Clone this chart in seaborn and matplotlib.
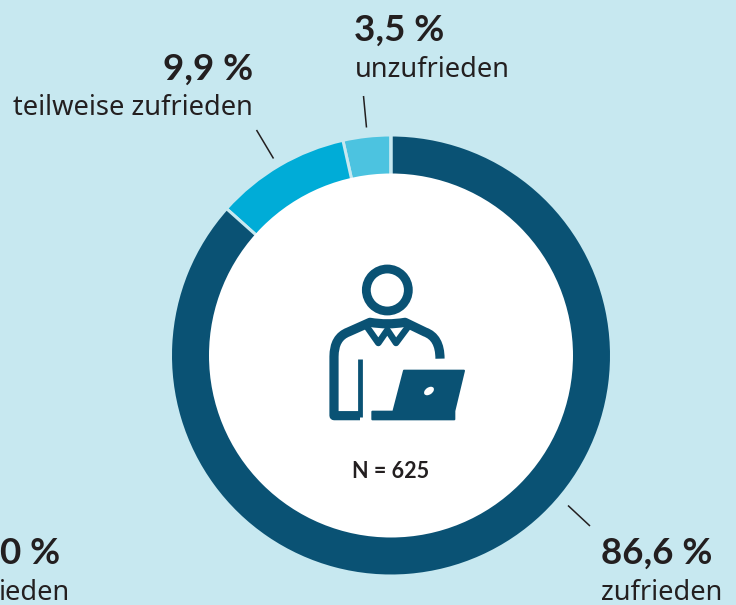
import matplotlib
matplotlib.use('Agg')
import matplotlib.pyplot as plt
import seaborn as sns
from matplotlib.patches import Circle, Ellipse, Polygon
from matplotlib.path import Path
from matplotlib.patches import PathPatch

# chart values, the 0,0 % slice has no visible wedge
kategorien = ['unzufrieden', 'teilweise zufrieden', 'zufrieden', 'ieden']
werte = [3.5, 9.9, 86.6, 0.0]
wert_texte = ['3,5 %', '9,9 %', '86,6 %', '0,0 %']
farben = ['#4cc3e0', '#00acd7', '#0a5274', '#0a5274']

BG = '#c7e8f0'
DUNKEL = '#0a5274'
TEXT = '#231f20'
W, H = 736, 605

sns.set_theme(style='white')
plt.rcParams['font.family'] = ['Noto Sans', 'DejaVu Sans']

fig = plt.figure(figsize=(W / 100, H / 100), dpi=100, facecolor=BG)
ax = fig.add_axes([0, 0, 1, 1])

def Y(y):
    return H - y

def px(n):
    return n * 0.72

# ring
ax.pie(werte, colors=sns.color_palette(farben), startangle=90, counterclock=True,
       center=(391, Y(355.5)), radius=220.5, frame=False,
       wedgeprops=dict(width=60, edgecolor=BG, linewidth=px(3)))
ax.add_patch(Circle((391, Y(355.5)), 182, fc='white', ec='none', zorder=3))

# leader lines
for (x0, y0), (x1, y1) in [((363.5, 96), (366.5, 127.5)), ((256.5, 130), (273.5, 158.5)), ((568, 505.5), (590, 526))]:
    ax.plot([x0, x1], [Y(y0), Y(y1)], color=TEXT, lw=1.1, solid_capstyle='butt', zorder=4)

# labels
anker = [(354, 41, 355, 77, 'left'), (253, 80, 253, 115, 'right'), (601, 564, 601, 600, 'left'), (60, 564, 70, 600, 'right')]
for kat, wt, (x0, y0, x1, y1, ha) in zip(kategorien, wert_texte, anker):
    ax.text(x0, Y(y0), wt, fontsize=26.5, family='Lato', fontweight='bold', color=TEXT, ha=ha, va='baseline', zorder=5)
    ax.text(x1, Y(y1), kat, fontsize=19.6, color=TEXT, ha=ha, va='baseline', zorder=5)
ax.text(391, Y(478), 'N = 625', fontsize=15.5, family='Lato', fontweight='bold', color=TEXT, ha='center', va='baseline', zorder=5)

# icon, points taken from the zoomed crop
def ic(x, y):
    return 310 + x / 3, Y(250 + y / 3)

ax.add_patch(Circle(ic(232, 120), 21, fc='none', ec=DUNKEL, lw=px(8.8), zorder=5))

M, L, C3 = Path.MOVETO, Path.LINETO, Path.CURVE3
koerper = [(390, 326, M), (390, 262, C3), (345, 246, C3), (285, 217, L), (232, 226, C3), (180, 217, C3),
           (115, 246, L), (72, 262, C3), (72, 320, C3), (72, 497, L), (150, 497, L)]
ax.add_patch(PathPatch(Path([ic(a, b) for a, b, _ in koerper], [c for _, _, c in koerper]),
                       fc='none', ec=DUNKEL, lw=px(9.2), joinstyle='round', capstyle='butt', zorder=5))
ax.plot(*zip(ic(149, 326), ic(149, 500)), color=DUNKEL, lw=px(4.8), solid_capstyle='butt', zorder=5)
ax.plot(*zip(ic(172, 232), ic(205, 279), ic(232, 240), ic(258, 279), ic(293, 232)),
        color=DUNKEL, lw=px(6.5), solid_joinstyle='round', zorder=5)

laptop = [(282, 362), (462, 362), (433, 483), (433, 508), (187, 508), (187, 485), (250, 485)]
ax.add_patch(Polygon([ic(a, b) for a, b in laptop], closed=True, fc=DUNKEL, ec=DUNKEL, lw=px(2), joinstyle='round', zorder=5))
ax.add_patch(Ellipse(ic(357, 423), 11, 7, angle=35, fc='white', ec='none', zorder=6))

ax.set_xlim(0, W)
ax.set_ylim(0, H)
ax.set_aspect('auto')
ax.axis('off')

fig.savefig('out.png', dpi=100, facecolor=BG)
